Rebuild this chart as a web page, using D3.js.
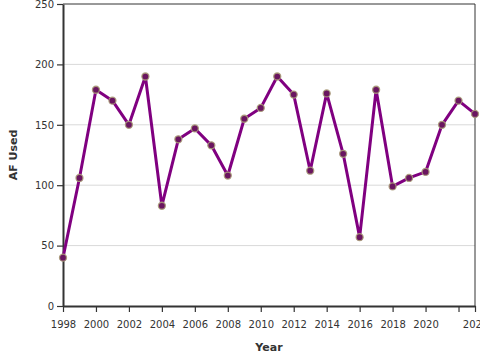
<!DOCTYPE html>
<html><head><meta charset="utf-8">
<script src="https://cdn.jsdelivr.net/npm/d3@7"></script>
<style>body{margin:0;background:#fff}svg{display:block;font-family:"DejaVu Sans",sans-serif}</style>
</head><body>
<script>
const years = [1998,1999,2000,2001,2002,2003,2004,2005,2006,2007,2008,2009,2010,2011,2012,2013,2014,2015,2016,2017,2018,2019,2020,2021,2022,2023];
const afUsed = [40,106,179,170,150,190,83,138,147,133,108,155,164,190,175,112,176,126,57,179,99,106,111,150,170,159];
const xTicks = [1998,2000,2002,2004,2006,2008,2010,2012,2014,2016,2018,2020,2022,2023];
const yTicks = [0,50,100,150,200,250];

const W=480,H=360,m={l:63,t:4,r:5,b:54};
const svg=d3.select("body").append("svg").attr("width",W).attr("height",H);
const x=d3.scaleLinear().domain([1998,2023]).range([m.l,W-m.r]);
const y=d3.scaleLinear().domain([0,250]).range([H-m.b,m.t]);

svg.append("g").selectAll("line").data(yTicks.filter(d=>d>0&&d<250)).join("line")
  .attr("x1",m.l).attr("x2",W-m.r).attr("y1",d=>y(d)).attr("y2",d=>y(d))
  .attr("stroke","#d9d9d9").attr("stroke-width",1);
svg.append("line").attr("x1",m.l).attr("x2",W-m.r).attr("y1",y(250)).attr("y2",y(250)).attr("stroke","#333").attr("stroke-width",1);
svg.append("line").attr("x1",W-m.r).attr("x2",W-m.r).attr("y1",y(250)).attr("y2",y(0)).attr("stroke","#333").attr("stroke-width",1);

const gx=svg.append("g").attr("transform",`translate(0,${y(0)})`)
  .call(d3.axisBottom(x).tickValues(xTicks).tickFormat(d=>d===2022?"":String(d)).tickSize(6).tickSizeOuter(0));
const gy=svg.append("g").attr("transform",`translate(${m.l},0)`)
  .call(d3.axisLeft(y).tickValues(yTicks).tickSize(6).tickSizeOuter(0));
[gx,gy].forEach(g=>{
  g.select(".domain").attr("stroke","#333").attr("stroke-width",2);
  g.selectAll(".tick line").attr("stroke","#333").attr("stroke-width",1.2);
  g.selectAll(".tick text").attr("fill","#333").attr("font-size",10).attr("font-family","DejaVu Sans, sans-serif");
});
gx.selectAll(".tick text").attr("dy","1.3em");

svg.append("path").datum(years.map((d,i)=>[d,afUsed[i]]))
  .attr("fill","none").attr("stroke","#800080").attr("stroke-width",3).attr("stroke-linejoin","round")
  .attr("d",d3.line().x(d=>x(d[0])).y(d=>y(d[1])));
svg.append("g").selectAll("circle").data(years.map((d,i)=>[d,afUsed[i]])).join("circle")
  .attr("cx",d=>x(d[0])).attr("cy",d=>y(d[1])).attr("r",3.5)
  .attr("fill","#6a1560").attr("stroke","#a89a78").attr("stroke-width",1.3).attr("stroke-opacity",0.9);

svg.append("text").attr("x",269).attr("y",351).attr("text-anchor","middle")
  .attr("font-size",11).attr("font-weight","bold").attr("fill","#333").text("Year");
svg.append("text").attr("transform",`translate(17,155) rotate(-90)`).attr("text-anchor","middle")
  .attr("font-size",11).attr("font-weight","bold").attr("fill","#333").text("AF Used");
</script>
</body></html>
